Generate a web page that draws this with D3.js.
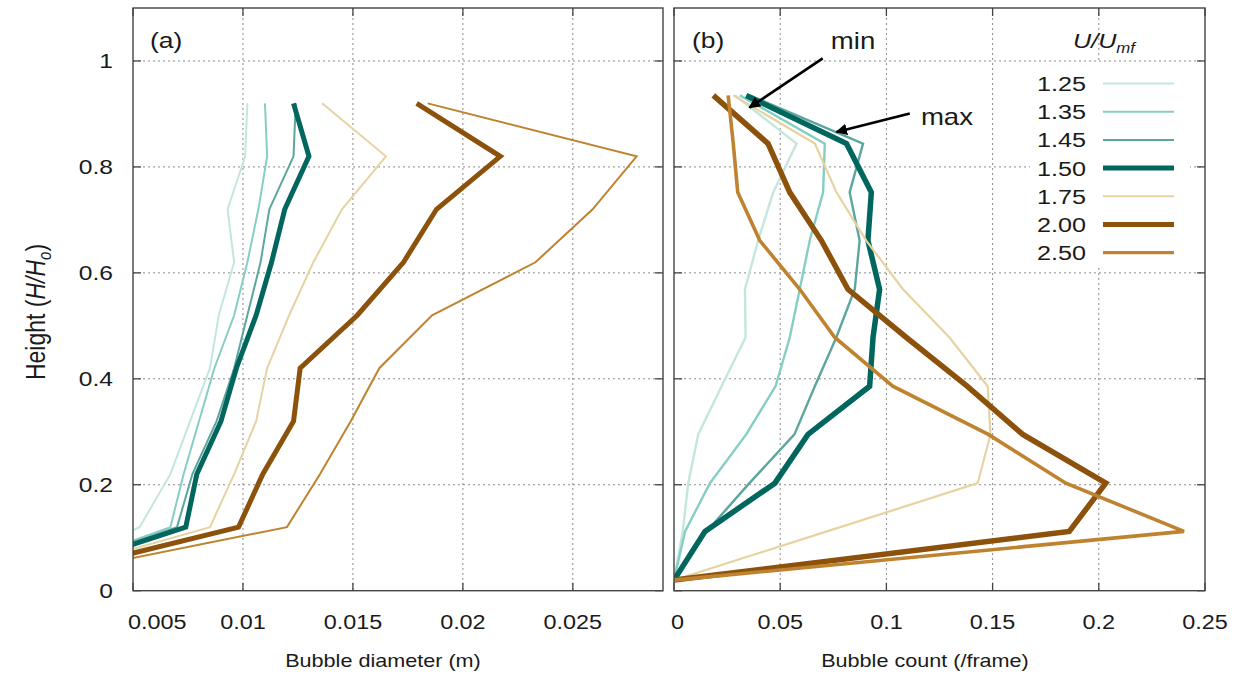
<!DOCTYPE html>
<html>
<head>
<meta charset="utf-8">
<script src="https://cdn.jsdelivr.net/npm/d3@7/dist/d3.min.js"></script>
<style>
  body { margin: 0; background: #fff; }
  svg { display: block; }
  text { font-family: "Liberation Sans", Arial, sans-serif; fill: #1a1a1a; }
</style>
</head>
<body>
<svg id="chart" width="1239" height="679"></svg>
<script>
// ---- data -------------------------------------------------------------
const velocityRatios = ["1.25", "1.35", "1.45", "1.50", "1.75", "2.00", "2.50"];

// (a) bubble diameter (m) against normalised height
const heightA = [0.02, 0.12, 0.22, 0.32, 0.42, 0.52, 0.62, 0.72, 0.82, 0.92];
const diam125 = [0, 0.0053, 0.0067, 0.0076, 0.0085, 0.0089, 0.0096, 0.0093, 0.0101, 0.0102];
const diam135 = [0, 0.0067, 0.0073, 0.0080, 0.0087, 0.0096, 0.0102, 0.0107, 0.0111, 0.0110];
const diam145 = [0, 0.0070, 0.0077, 0.0088, 0.0096, 0.0102, 0.0108, 0.0112, 0.0123, 0.0124];
const diam150 = [0, 0.0074, 0.0079, 0.0090, 0.0097, 0.0106, 0.0113, 0.0119, 0.0130, 0.0123];
const diam175 = [0, 0.0085, 0.0096, 0.0106, 0.0111, 0.0121, 0.0132, 0.0145, 0.0165, 0.0136];
const diam200 = [0, 0.0098, 0.0109, 0.0123, 0.0126, 0.0152, 0.0173, 0.0188, 0.0217, 0.0179];
const diam250 = [0, 0.0120, 0.0135, 0.0149, 0.0162, 0.0186, 0.0233, 0.0259, 0.0279, 0.0184];

// (b) bubble count per frame against normalised height
const heightB = [0.02, 0.112, 0.203, 0.295, 0.386, 0.478, 0.569, 0.661, 0.752, 0.844, 0.935];
const count125 = [0, 0.0041, 0.0067, 0.0114, 0.0224, 0.0337, 0.0334, 0.0396, 0.0467, 0.0577, 0.0287];
const count135 = [0, 0.0052, 0.0169, 0.0340, 0.0478, 0.0545, 0.0592, 0.0639, 0.0702, 0.0710, 0.0310];
const count145 = [0, 0.0154, 0.0355, 0.0567, 0.0663, 0.0764, 0.0851, 0.0874, 0.0827, 0.0890, 0.0357];
const count150 = [0, 0.0146, 0.0475, 0.0631, 0.0921, 0.0937, 0.0968, 0.0913, 0.0929, 0.0812, 0.0340];
const count175 = [0, 0.0720, 0.1430, 0.1490, 0.1477, 0.1297, 0.1078, 0.0905, 0.0765, 0.0663, 0.0279];
const count200 = [0, 0.1861, 0.2033, 0.1642, 0.1380, 0.1094, 0.0819, 0.0694, 0.0545, 0.0443, 0.0185];
const count250 = [0, 0.2401, 0.1845, 0.1480, 0.1030, 0.0757, 0.0592, 0.0404, 0.0300, 0.0279, 0.0255];

// axis ticks
const yTicks = [0, 0.2, 0.4, 0.6, 0.8, 1];
const yTickLabels = ["0", "0.2", "0.4", "0.6", "0.8", "1"];
const xTicksA = [0.005, 0.01, 0.015, 0.02, 0.025];
const xTickLabelsA = ["0.005", "0.01", "0.015", "0.02", "0.025"];
const xTicksB = [0, 0.05, 0.1, 0.15, 0.2, 0.25];
const xTickLabelsB = ["0", "0.05", "0.1", "0.15", "0.2", "0.25"];

// ---- styling ----------------------------------------------------------
const seriesColors = ["#c4e6df", "#86cec3", "#5da69d", "#01665e", "#e5d3a2", "#8c510a", "#bf832f"];
const widthsA = [2, 2, 2, 5, 2, 5, 2];
const widthsB = [2.4, 2.4, 2.4, 5.5, 2.2, 5.5, 3.6];
const legendWidths = [2, 2, 2, 5, 2, 5, 3.2];
const SX = 1.2;              // horizontal glyph stretch used across the figure

const svg = d3.select("#chart");
const plotTop = 8, plotBottom = 590.7;
const y = d3.scaleLinear().domain([0, 1.1]).range([plotBottom, plotTop]);
const xA = d3.scaleLinear().domain([0.005, 0.0291]).range([133, 663]);
const xB = d3.scaleLinear().domain([0, 0.25]).range([674, 1205]);

function label(g, x, yy, str, opts = {}) {
  const t = g.append("text")
    .attr("transform", `translate(${x},${yy}) scale(${SX},1)` + (opts.rotate ? ` rotate(${opts.rotate})` : ""))
    .attr("text-anchor", opts.anchor || "middle")
    .style("font-size", (opts.size || 21) + "px");
  if (opts.italic) t.style("font-style", "italic");
  t.text(str);
  return t;
}

const seriesA = [diam125, diam135, diam145, diam150, diam175, diam200, diam250];
const seriesB = [count125, count135, count145, count150, count175, count200, count250];

function panel(id, x, xTicks, xLabels, series, heights, widths) {
  const [x0, x1] = x.range();
  const g = svg.append("g");
  svg.append("clipPath").attr("id", "clip-" + id)
    .append("rect").attr("x", x0).attr("y", plotTop).attr("width", x1 - x0).attr("height", plotBottom - plotTop);

  // dotted grid
  const grid = g.append("g").attr("stroke", "#8a8a8a").attr("stroke-width", 1).attr("stroke-dasharray", "2,3");
  xTicks.filter(v => x(v) > x0 + 1 && x(v) < x1 - 1).forEach(v => {
    grid.append("line").attr("x1", x(v)).attr("x2", x(v)).attr("y1", plotTop).attr("y2", plotBottom);
  });
  yTicks.filter(v => v > 0).forEach(v => {
    grid.append("line").attr("x1", x0).attr("x2", x1).attr("y1", y(v)).attr("y2", y(v));
  });

  // inward tick marks on every side
  const ticks = g.append("g").attr("stroke", "#444").attr("stroke-width", 1.3);
  yTicks.forEach(v => {
    ticks.append("line").attr("x1", x0).attr("x2", x0 + 8).attr("y1", y(v)).attr("y2", y(v));
    ticks.append("line").attr("x1", x1).attr("x2", x1 - 8).attr("y1", y(v)).attr("y2", y(v));
  });
  xTicks.forEach(v => {
    ticks.append("line").attr("x1", x(v)).attr("x2", x(v)).attr("y1", plotBottom).attr("y2", plotBottom - 8);
    ticks.append("line").attr("x1", x(v)).attr("x2", x(v)).attr("y1", plotTop).attr("y2", plotTop + 8);
  });

  // profiles
  const line = d3.line().x(d => x(d[0])).y(d => y(d[1]));
  const lines = g.append("g").attr("clip-path", `url(#clip-${id})`);
  series.forEach((vals, i) => {
    lines.append("path")
      .datum(vals.map((v, k) => [v, heights[k]]))
      .attr("d", line)
      .attr("fill", "none")
      .attr("stroke", seriesColors[i])
      .attr("stroke-width", widths[i])
      .attr("stroke-linejoin", "miter")
      .attr("stroke-miterlimit", 3);
  });

  // frame
  g.append("rect").attr("x", x0).attr("y", plotTop).attr("width", x1 - x0).attr("height", plotBottom - plotTop)
    .attr("fill", "none").attr("stroke", "#444").attr("stroke-width", 1.4);

  // x tick labels
  xTicks.forEach((v, i) => {
    let px = x(v), anchor = "middle";
    if (i === 0 && id === "a") { px = x0 - 5; anchor = "start"; }
    if (i === 0 && id === "b") { px = x0 - 3; anchor = "start"; }
    label(svg, px, 629, xLabels[i], { anchor, size: 19.5 });
  });
  return g;
}

panel("a", xA, xTicksA, xTickLabelsA, seriesA, heightA, widthsA);
panel("b", xB, xTicksB, xTickLabelsB, seriesB, heightB, widthsB);

// y tick labels
yTicks.forEach((v, i) => label(svg, 113, y(v) + 7.5, yTickLabels[i], { anchor: "end", size: 20.5 }));

// axis titles
label(svg, 383, 667, "Bubble diameter (m)", { size: 18 });
label(svg, 925, 667, "Bubble count (/frame)", { size: 18 });
const yt = label(svg, 45, 312, "", { rotate: -90, size: 23 });
yt.append("tspan").text("Height (");
yt.append("tspan").style("font-style", "italic").text("H/H");
yt.append("tspan").style("font-style", "italic").style("font-size", "15px").attr("dy", 5).text("o");
yt.append("tspan").attr("dy", -5).text(")");

// panel letters
label(svg, 150, 48, "(a)", { anchor: "start", size: 22 });
label(svg, 692, 48, "(b)", { anchor: "start", size: 22 });

// annotation arrows in panel (b)
const defs = svg.append("defs");
defs.append("marker").attr("id", "head").attr("viewBox", "0 0 10 10")
  .attr("refX", 9).attr("refY", 5).attr("markerWidth", 4.5).attr("markerHeight", 4.5)
  .attr("markerUnits", "strokeWidth").attr("orient", "auto")
  .append("path").attr("d", "M0,0 L10,5 L0,10 Z").attr("fill", "#000");

const arrows = [
  { from: [0.0700, 1.005], to: [0.0355, 0.912], text: "min", tx: 0.0843, ty: 1.038 },
  { from: [0.1110, 0.901], to: [0.0765, 0.866], text: "max", tx: 0.1285, ty: 0.895 }
];
arrows.forEach(a => {
  svg.append("line")
    .attr("x1", xB(a.from[0])).attr("y1", y(a.from[1]))
    .attr("x2", xB(a.to[0])).attr("y2", y(a.to[1]))
    .attr("stroke", "#000").attr("stroke-width", 2.6).attr("marker-end", "url(#head)");
  label(svg, xB(a.tx), y(a.ty) + 8.5, a.text, { size: 23 });
});

// legend
const leg = svg.append("g");
leg.append("rect").attr("x", 1030).attr("y", 62).attr("width", 160).attr("height", 206).attr("fill", "#fff");
const lt = label(leg, 1104, 48, "", { size: 21, italic: true });
lt.append("tspan").text("U/U");
lt.append("tspan").style("font-size", "14px").attr("dy", 5).text("mf");
velocityRatios.forEach((r, i) => {
  const cy = 83.5 + i * 28.2;
  label(leg, 1086, cy + 7.5, r, { anchor: "end", size: 21 });
  leg.append("line").attr("x1", 1103).attr("x2", 1174).attr("y1", cy).attr("y2", cy)
    .attr("stroke", seriesColors[i]).attr("stroke-width", legendWidths[i]);
});
</script>
</body>
</html>
